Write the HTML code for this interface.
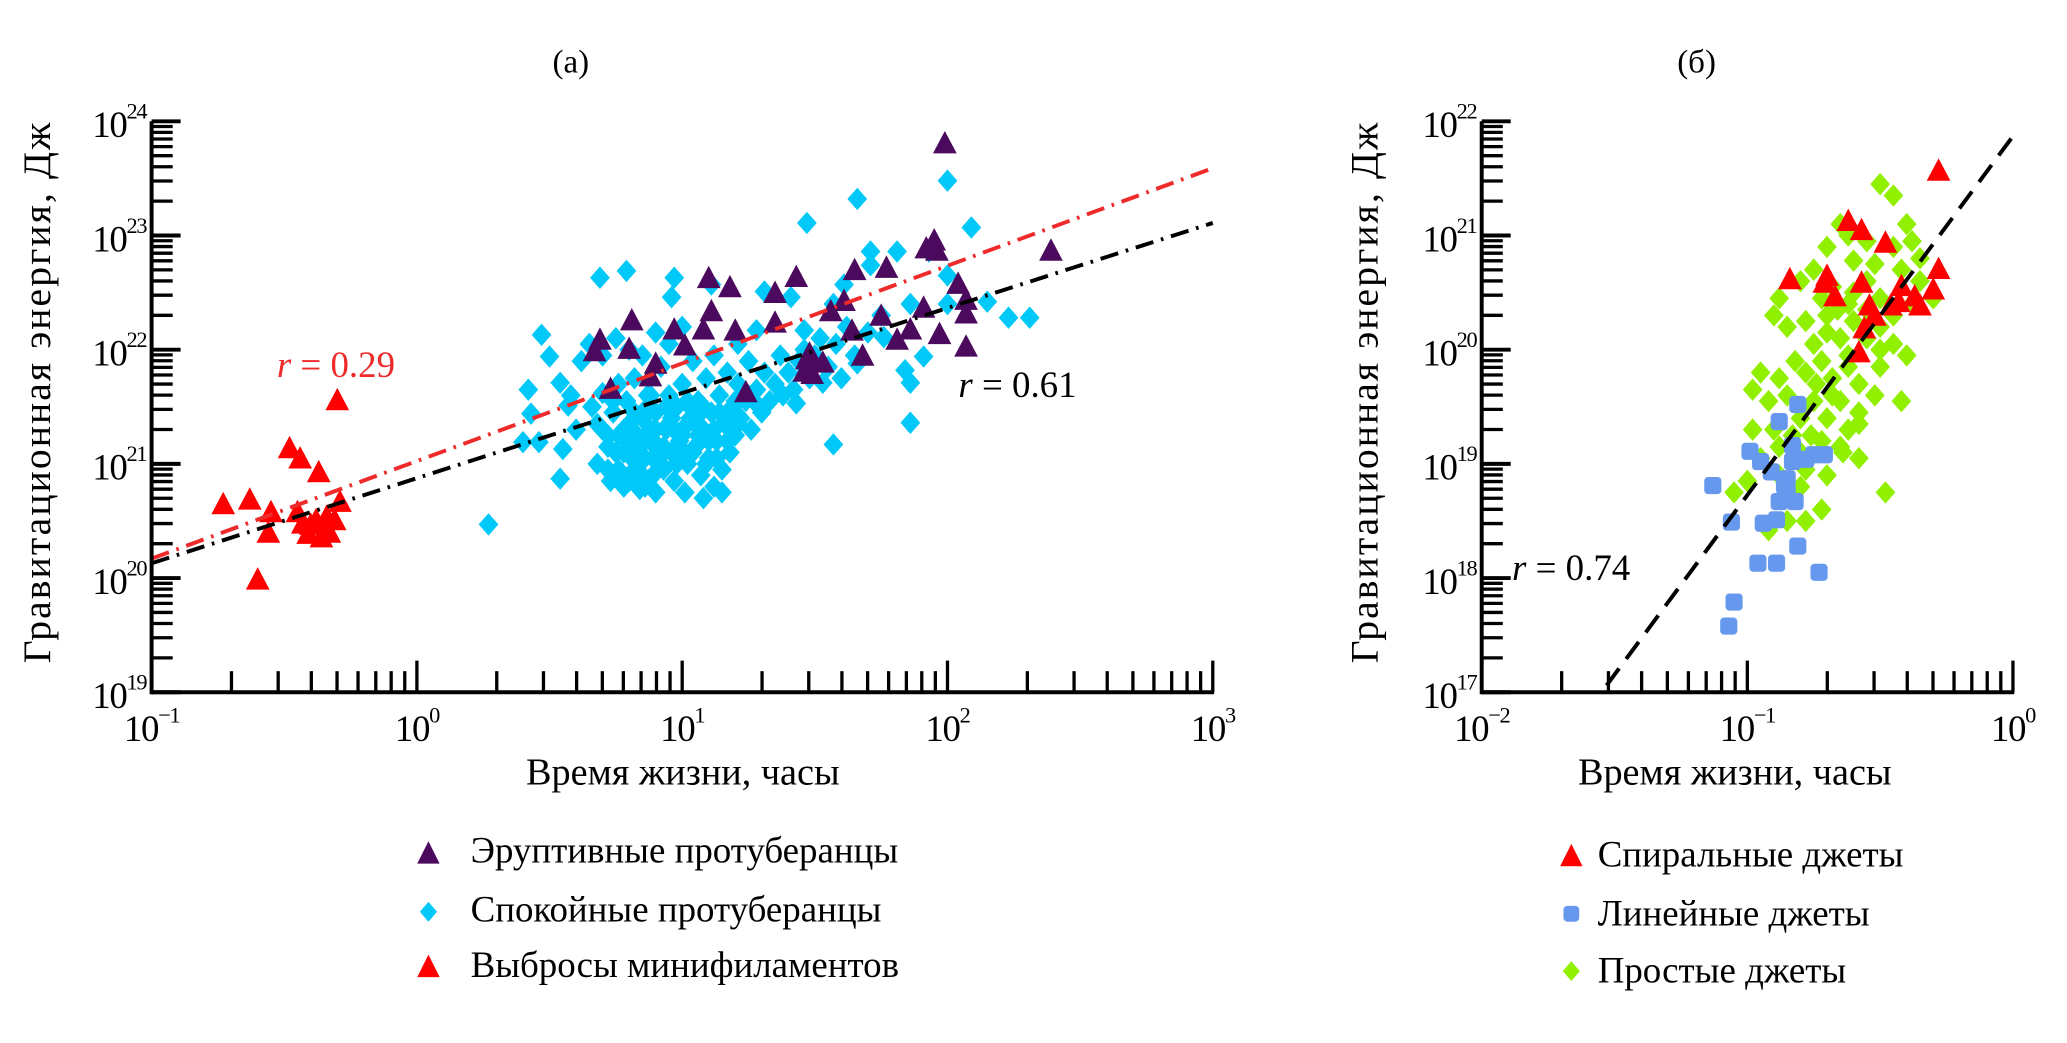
<!DOCTYPE html>
<html><head><meta charset="utf-8">
<style>
html,body{margin:0;padding:0;background:#fff;}
svg{display:block;font-family:"Liberation Serif","DejaVu Serif",serif;}
</style></head>
<body>
<svg id="chart" width="2067" height="1043" viewBox="0 0 1568 791" preserveAspectRatio="none" xmlns="http://www.w3.org/2000/svg">
<text x="433" y="55" font-size="25" text-anchor="middle">(а)</text>
<text x="1287" y="55" font-size="25" text-anchor="middle">(б)</text>
<g id="panelA"></g>
<g id="panelB"></g>
</svg>
<script>
// ---- Panel (а) data (log10 hours, log10 J) ----
const quietT = [.27,.43,.57,.46,.54,.47,.50,.79,.69,1.47,1.66,2.0,2.09,1.93,1.57,1.86,1.57,1.84,2.23,2.31,2.15,2.0,2.0,1.71,.42,.40,.55,.54,1.11,.97,.96,1.31,1.41,1.61,1.71,1.81,1.86,1.76,1.91,1.86,1.66,1.53,1.43,1.46,1.28,1.21,
.66,.68,.70,.72,.74,.75,.76,.78,.79,.80,.81,.82,.84,.85,.86,.87,.88,.89,.90,.91,.92,.93,.94,.95,.96,.97,.98,.99,1.00,1.01,1.02,1.03,1.04,1.05,1.06,1.07,1.08,1.09,1.10,1.11,1.12,1.13,1.14,1.15,1.16,1.17,1.18,1.19,1.20,1.21,1.22,1.24,1.25,1.26,1.28,1.30,1.31,1.33,1.35,1.37,1.38,1.40,1.42,1.44,1.46,1.48,1.5,1.52,1.55,1.58,1.62,1.65,1.7,1.75,1.6,.62,.65,.7,.75,.8,.85,.9,.95,1.0,.72,.78,.84,.9,1.12,1.08,1.15,.82,.88,.76,.95,1.02,.6,.58,
.68,.72,.76,.8,.84,.88,.92,.96,1.0,1.04,1.08,1.12,1.16,1.2,.7,.74,.78,.82,.86,.9,.94,.98,1.02,1.06,1.1,1.14,1.18,.73,.77,.81,.85,.89,.93,.97,1.01,1.05,1.09,1.13,1.17,1.21,1.25,1.29,.79,.83,.87,.91,1.03,1.07];
const quietE = [20.47,21.44,21.51,21.19,20.87,22.13,21.94,22.69,22.63,23.11,23.32,23.48,23.07,22.86,22.40,21.36,21.17,21.82,22.28,22.28,22.42,22.40,22.65,22.86,21.65,21.19,21.13,21.71,22.57,22.63,22.46,22.51,22.46,22.57,22.74,22.86,22.40,22.11,21.94,21.71,21.88,21.71,21.53,22.17,22.17,22.05,
21.5,21.35,21.62,21.25,21.45,21.1,20.95,21.3,21.55,20.85,21.15,21.75,21.0,21.4,20.8,21.6,21.2,20.9,21.45,21.05,21.85,20.95,21.3,21.6,21.1,20.85,21.5,21.2,21.7,20.75,21.0,21.4,21.9,21.15,21.55,20.9,21.3,21.75,21.05,21.45,21.95,21.2,21.6,20.95,21.35,21.8,21.1,21.5,21.25,21.7,21.4,21.55,21.9,21.3,21.65,21.45,21.8,21.55,21.7,21.95,21.6,21.8,21.65,21.9,22.0,21.75,21.95,22.1,21.85,22.05,22.2,21.95,22.15,22.3,21.75,21.9,22.05,21.95,22.1,22.0,21.95,22.15,22.05,22.2,20.95,20.8,20.78,20.75,20.8,20.7,20.75,21.45,21.6,21.7,21.35,21.55,21.3,21.6,
21.0,21.15,21.25,21.35,21.1,21.3,21.0,21.4,21.25,21.1,21.5,21.3,21.4,21.55,21.3,21.55,21.1,20.95,21.2,21.3,21.5,21.0,21.35,21.25,21.2,21.45,21.3,20.85,20.9,21.05,20.9,21.05,21.15,21.3,21.1,21.35,21.0,21.05,21.2,21.35,21.6,21.5,21.2,21.25,21.5,21.15,21.5,21.45];
const eruptT = [1.99,1.10,1.96,1.77,1.65,1.92,2.04,1.35,1.18,1.91,1.61,1.56,1.35,1.08,1.20,.97,.81,.69,1.11,1.48,.67,1.01,.80,.90,1.47,1.68,1.64,1.75,1.81,2.07,1.97,2.07,1.49,1.46,1.53,.88,1.24,.73,2.39,1.43,2.07,1.86,1.95];
const eruptE = [23.80,22.62,22.86,22.71,22.69,22.88,22.57,22.49,22.54,22.36,22.42,22.33,22.23,22.17,22.16,22.17,22.25,22.08,22.33,21.96,21.98,22.03,22.00,21.87,21.91,21.94,22.16,22.29,22.08,22.02,22.13,22.43,21.78,21.80,21.88,21.76,21.62,21.65,22.86,22.63,22.31,22.17,22.95];
const miniT = [-.30,-.48,-.44,-.37,-.73,-.63,-.55,-.56,-.60,-.45,-.40,-.41,-.36,-.33,-.31,-.29,-.38,-.43,-.34];
const miniE = [21.55,21.13,21.04,20.92,20.64,20.68,20.57,20.39,19.98,20.57,20.46,20.38,20.35,20.39,20.50,20.66,20.50,20.47,20.53];
const fitAllT = [-1, 3], fitAllE = [20.13, 23.11];
const fitRedT = [-1, 3], fitRedE = [20.17, 23.59];
const xTicksA = [-1,0,1,2,3], yTicksA = [19,20,21,22,23,24];
// ---- Panel (б) data ----
const spiralT = [-.28,-.62,-.57,-.48,-.70,-.57,-.67,-.54,-.42,-.28,-.43,-.35,-.30,-.58,-.56,-.37,-.52,-.46,-.84,-.71];
const spiralE = [21.56,21.12,21.04,20.93,20.64,20.58,20.46,20.38,20.55,20.70,20.41,20.38,20.52,19.97,20.18,20.46,20.29,20.38,20.61,20.58];
const linearT = [-.81,-.88,-.99,-.83,-.78,-.75,-.71,-1.13,-.91,-.86,-.82,-.88,-.89,-.94,-1.06,-.81,-.96,-.89,-.73,-1.05,-1.07,-.83,-.85,-.85,-.95];
const linearE = [19.52,19.37,19.11,19.16,19.04,19.08,19.08,18.81,18.93,18.81,18.67,18.67,18.51,18.48,18.49,18.28,18.13,18.13,18.05,17.79,17.58,19.02,18.87,18.76,19.02];
const simpleT = [-.50,-.65,-.55,-.45,-.6,-.75,-.8,-.68,-.55,-.5,-.62,-.72,-.9,-.85,-.78,-.7,-.6,-.5,-.45,-.55,-.65,-.75,-.82,-.72,-.62,-.5,-.4,-.42,-.95,-.98,-.88,-.78,-.68,-.58,-.52,-.92,-.85,-.75,-.65,-.58,-.8,-.7,-.62,-.9,-.98,-.83,-.72,-.65,-.58,-.8,-.88,-.95,-.78,-.7,-.88,-1.0,-1.05,-.8,-.72,-.78,-.85,-.92,-.48,-.45,-.4,-.38,-.35,-.42,-.35,-.3,-.38,-.45,-.88,-.7,-.62,-.52,
-.6,-.66,-.7,-.55,-.5,-.62,-.74,-.8,-.68,-.58,-.64,-.76];
const simpleE = [21.45,21.1,20.95,20.9,20.78,20.7,20.6,20.55,20.6,20.45,20.4,20.45,20.3,20.2,20.25,20.3,20.25,20.2,20.05,20.1,20.1,20.05,19.9,19.9,19.95,19.85,19.95,19.55,19.8,19.65,19.75,19.8,19.75,19.7,19.6,19.55,19.6,19.55,19.55,19.45,19.4,19.4,19.3,19.3,19.3,19.25,19.2,19.15,19.05,19.1,19.15,19.05,18.95,18.9,18.9,18.85,18.75,18.8,18.6,18.5,18.5,18.42,18.75,21.35,21.1,20.95,20.8,20.7,20.6,20.45,20.4,20.3,20.45,20.9,21.0,20.75,
20.5,20.35,20.15,20.35,20.0,19.85,19.7,19.5,19.6,19.35,19.1,19.25];
const fitBT = [-1.53, 0], fitBE = [17.06, 21.87];
const xTicksB = [-2,-1,0], yTicksB = [17,18,19,20,21,22];

const NS = "http://www.w3.org/2000/svg";
function el(parent, tag, attrs){ const e=document.createElementNS(NS,tag); for(const k in attrs) e.setAttribute(k,attrs[k]); parent.appendChild(e); return e; }

function makeAxes(g, x0, x1, y0, y1, xmin, xmax, ymin, ymax){
  const sx = v => x0 + (v - xmin) / (xmax - xmin) * (x1 - x0);
  const sy = v => y0 - (v - ymin) / (ymax - ymin) * (y0 - y1);
  return {sx, sy};
}

function drawAxes(g, ax, x0,x1,y0,y1,xT,yT){
  for(let i=0;i<yT.length;i++){
    const d=yT[i];
    const y=ax.sy(d);
    const t=el(g,'line',{x1:x0,y1:y,x2:x0+22,y2:y,stroke:'#000','stroke-width':3});
    
    
    const lab=el(g,'text',{x:x0-4,y:y+12,'font-size':28,'text-anchor':'end','letter-spacing':'-1'});
    
    
    lab.innerHTML='10<tspan dy="-14" font-size="17">'+d+'</tspan>';
    if(i<yT.length-1){
      for(let m=2;m<10;m++){
        const ym=ax.sy(d+Math.log10(m));
        const mt=el(g,'line',{x1:x0,y1:ym,x2:x0+16,y2:ym,stroke:'#000','stroke-width':2.5});
        
        
      }
    }
  }
  for(let i=0;i<xT.length;i++){
    const d=xT[i];
    const x=ax.sx(d);
    const t=el(g,'line',{x1:x,y1:y0,x2:x,y2:y0-24,stroke:'#000','stroke-width':2.5});
    
    
    const lab=el(g,'text',{x:x,y:y0+37,'font-size':28,'text-anchor':'middle','letter-spacing':'-1'});
    
    
    lab.innerHTML='10<tspan dy="-14" font-size="17">'+(d<0?'−'+(-d):d)+'</tspan>';
    if(i<xT.length-1){
      for(let m=2;m<10;m++){
        const xm=ax.sx(d+Math.log10(m));
        const mt=el(g,'line',{x1:xm,y1:y0,x2:xm,y2:y0-16,stroke:'#000','stroke-width':2.5});
        
        
      }
    }
  }
  const a1=el(g,'line',{x1:x0,y1:y0,x2:x1+1,y2:y0,stroke:'#000','stroke-width':3});
  
  
  const a2=el(g,'line',{x1:x0,y1:y0+1.5,x2:x0,y2:y1,stroke:'#000','stroke-width':3});
  
  
}

function marker(g, type, x, y, color, name){
  let m;
  if(type==='tri'){ m=el(g,'polygon',{points:`${x},${y-10} ${x-9},${y+7} ${x+9},${y+7}`,fill:color}); }
  else if(type==='dia'){ m=el(g,'polygon',{points:`${x},${y-8.5} ${x+7.5},${y} ${x},${y+8.5} ${x-7.5},${y}`,fill:color}); }
  else { m=el(g,'rect',{x:x-6.5,y:y-6.5,width:13,height:13,rx:3,fill:color}); }
  
  
  return m;
}

function fitLine(g, ax, T, E, color, dash, name){
  const l=el(g,'line',{x1:ax.sx(T[0]),y1:ax.sy(E[0]),x2:ax.sx(T[1]),y2:ax.sy(E[1]),stroke:color,'stroke-width':3,'stroke-dasharray':dash});
  
  
}

const gA=document.getElementById('panelA');
const axA=makeAxes(gA,115,920,525,92,-1,3,19,24);
for(let i=0;i<quietT.length;i++) marker(gA,'dia',axA.sx(quietT[i]),axA.sy(quietE[i]),'#00c8f8','quiet-prominence-point');
for(let i=0;i<eruptT.length;i++) marker(gA,'tri',axA.sx(eruptT[i]),axA.sy(eruptE[i]),'#4b0a5e','eruptive-prominence-point');
for(let i=0;i<miniT.length;i++) marker(gA,'tri',axA.sx(miniT[i]),axA.sy(miniE[i]),'#ff0000','minifilament-point');
fitLine(gA,axA,fitRedT,fitRedE,'#ee2a2a','14 6 2 6','fit-line-minifilaments');
fitLine(gA,axA,fitAllT,fitAllE,'#000','14 6 2 6','fit-line-all');
drawAxes(gA,axA,115,920,525,92,xTicksA,yTicksA);

const gB=document.getElementById('panelB');
const axB=makeAxes(gB,1124,1527,525,92,-2,0,17,22);
for(let i=0;i<simpleT.length;i++) marker(gB,'dia',axB.sx(simpleT[i]),axB.sy(simpleE[i]),'#90f000','simple-jet-point');
for(let i=0;i<linearT.length;i++) marker(gB,'sq',axB.sx(linearT[i]),axB.sy(linearE[i]),'#6699ee','linear-jet-point');
for(let i=0;i<spiralT.length;i++) marker(gB,'tri',axB.sx(spiralT[i]),axB.sy(spiralE[i]),'#ff0000','spiral-jet-point');
fitLine(gB,axB,fitBT,fitBE,'#000','16 9','fit-line-jets');
drawAxes(gB,axB,1124,1527,525,92,xTicksB,yTicksB);
</script>
<svg style="position:absolute;left:0;top:0" width="2067" height="1043" viewBox="0 0 1568 791" preserveAspectRatio="none" xmlns="http://www.w3.org/2000/svg" font-family="Liberation Serif, serif">
<text x="210" y="286" font-size="28" fill="#ee2a2a"><tspan font-style="italic">r</tspan> = 0.29</text>
<text x="727" y="301" font-size="28"><tspan font-style="italic">r</tspan> = 0.61</text>
<text x="1147" y="440" font-size="28"><tspan font-style="italic">r</tspan> = 0.74</text>
<text x="518" y="595" font-size="29" text-anchor="middle">Время жизни, часы</text>
<text x="1316" y="595" font-size="29" text-anchor="middle">Время жизни, часы</text>
<text transform="translate(38,298) rotate(-90)" font-size="30" text-anchor="middle" textLength="410">Гравитационная энергия, Дж</text>
<text transform="translate(1045,298) rotate(-90)" font-size="30" text-anchor="middle" textLength="410">Гравитационная энергия, Дж</text>
<g font-size="28">
<polygon points="325,638 316.5,655 333.5,655" fill="#4b0a5e"/>
<text x="357" y="654">Эруптивные протуберанцы</text>
<polygon points="325,684 331.5,691.5 325,699 318.5,691.5" fill="#00c8f8"/>
<text x="357" y="699">Спокойные протуберанцы</text>
<polygon points="325,724 316.5,741 333.5,741" fill="#ff0000"/>
<text x="357" y="741">Выбросы минифиламентов</text>
</g>
<g font-size="28">
<polygon points="1192,640 1183.5,657 1200.5,657" fill="#ff0000"/>
<text x="1212" y="657">Спиральные джеты</text>
<rect x="1186" y="687" width="12" height="12" rx="3" fill="#6699ee"/>
<text x="1212" y="702">Линейные джеты</text>
<polygon points="1192,729 1198.5,736.5 1192,744 1185.5,736.5" fill="#90f000"/>
<text x="1212" y="745">Простые джеты</text>
</g>
</svg>
</body></html>
